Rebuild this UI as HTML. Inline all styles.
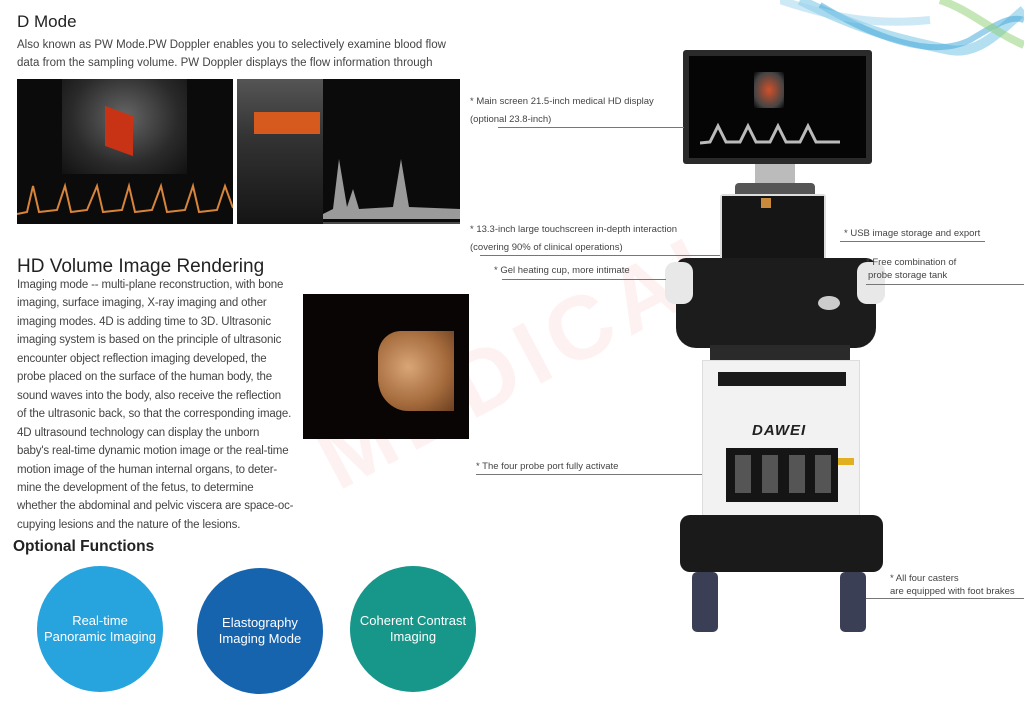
<!DOCTYPE html>
<html><head><meta charset="utf-8">
<style>
*{margin:0;padding:0;box-sizing:border-box}
body{width:1024px;height:709px;background:#fff;position:relative;overflow:hidden;font-family:"Liberation Sans",sans-serif;color:#3a3a3a}
.a{position:absolute}
.t{font-size:11.5px;line-height:18.4px;color:#444}
.t2{font-size:11.5px;line-height:18.45px;color:#444;white-space:nowrap;letter-spacing:-0.15px}
.lab{position:absolute;font-size:9.5px;color:#444;white-space:nowrap}
.ln{position:absolute;height:1px;background:#777}
.c{position:absolute;border-radius:50%;color:#fff;font-size:13px;text-align:center;display:flex;align-items:center;justify-content:center;line-height:16px}
</style></head><body>

<svg class="a" style="left:780px;top:0" width="244" height="70">
<path d="M20 0 C80 30 120 40 170 50 C200 55 220 30 244 10" stroke="#59b7e0" stroke-width="10" fill="none" opacity=".45"/>
<path d="M40 5 C90 35 150 60 190 40 C215 25 230 15 244 20" stroke="#3aa3d8" stroke-width="6" fill="none" opacity=".5"/>
<path d="M160 0 C190 10 210 30 244 45" stroke="#8ccf70" stroke-width="8" fill="none" opacity=".5"/>
<path d="M0 0 C60 20 100 25 150 20" stroke="#9bd3ee" stroke-width="8" fill="none" opacity=".5"/>
</svg>

<div class="a" style="left:300px;top:420px;font-size:90px;font-weight:bold;color:#fdf1f2;transform:rotate(-28deg);transform-origin:left top;letter-spacing:8px">MEDICAL</div>

<div class="a" style="left:17px;top:12px;font-size:17px;color:#222">D Mode</div>
<div class="a t" style="left:17px;top:36px;width:440px">Also known as PW Mode.PW Doppler enables you to selectively examine blood flow data from the sampling volume. PW Doppler displays the flow information through</div>

<div class="a" style="left:17px;top:79px;width:216px;height:145px;background:#0b0b0b;overflow:hidden">
 <div class="a" style="left:45px;top:0;width:125px;height:95px;background:radial-gradient(ellipse at 50% 40%,#666,#2a2a2a 60%,#111)"></div>
 <div class="a" style="left:88px;top:32px;width:28px;height:40px;background:#c83316;transform:skewY(20deg)"></div>
 <svg class="a" style="left:0;top:95px" width="216" height="50"><polyline points="0,40 10,38 16,12 22,38 40,36 48,12 54,38 70,36 80,12 86,38 105,36 112,12 118,38 135,36 144,12 150,38 168,36 176,12 182,38 200,36 208,12 216,34" stroke="#d8843a" stroke-width="2" fill="none"/></svg>
</div>
<div class="a" style="left:237px;top:79px;width:223px;height:145px;background:#0b0b0b;overflow:hidden">
 <div class="a" style="left:0;top:0;width:86px;height:145px;background:linear-gradient(#555,#333 40%,#151515)"></div>
 <div class="a" style="left:17px;top:33px;width:66px;height:22px;background:#d65a1e"></div>
 <svg class="a" style="left:86px;top:40px" width="137" height="105"><path d="M0 95 L10 90 L16 40 L24 88 L30 70 L36 90 L70 88 L78 40 L86 88 L137 90 L137 100 L0 100Z" fill="#9a9a9a"/><line x1="0" y1="104" x2="137" y2="104" stroke="#888"/></svg>
</div>

<div class="a" style="left:17px;top:256px;font-size:19px;color:#222">HD Volume Image Rendering</div>
<div class="a t2" style="left:17px;top:276px">Imaging mode -- multi-plane reconstruction, with bone<br>imaging, surface imaging, X-ray imaging and other<br>imaging modes. 4D is adding time to 3D. Ultrasonic<br>imaging system is based on the principle of ultrasonic<br>encounter object reflection imaging developed, the<br>probe placed on the surface of the human body, the<br>sound waves into the body, also receive the reflection<br>of the ultrasonic back, so that the corresponding image.<br>4D ultrasound technology can display the unborn<br>baby's real-time dynamic motion image or the real-time<br>motion image of the human internal organs, to deter-<br>mine the development of the fetus, to determine<br>whether the abdominal and pelvic viscera are space-oc-<br>cupying lesions and the nature of the lesions.</div>

<div class="a" style="left:303px;top:294px;width:166px;height:145px;background:#0a0505">
 <div class="a" style="left:75px;top:37px;width:76px;height:80px;background:radial-gradient(ellipse at 40% 45%,#d9a577,#a46a3c 60%,#6b3f20);border-radius:30% 0 0 40%"></div>
</div>

<div class="a" style="left:13px;top:538px;font-size:15.5px;font-weight:bold;color:#222">Optional Functions</div>
<div class="c" style="left:37px;top:566px;width:126px;height:126px;background:#27a3de">Real-time<br>Panoramic Imaging</div>
<div class="c" style="left:197px;top:568px;width:126px;height:126px;background:#1764ae">Elastography<br>Imaging Mode</div>
<div class="c" style="left:350px;top:566px;width:126px;height:126px;background:#17978a">Coherent Contrast<br>Imaging</div>

<div class="a" style="left:683px;top:50px;width:189px;height:114px;background:#2a2a2a;border-radius:3px"></div>
<div class="a" style="left:689px;top:56px;width:177px;height:102px;background:#050505"></div>
<div class="a" style="left:754px;top:72px;width:30px;height:36px;background:radial-gradient(#d0502a,#444 70%,#050505)"></div>
<svg class="a" style="left:700px;top:118px" width="140" height="30"><polyline points="0,25 10,24 18,8 26,24 40,24 48,8 56,24 70,24 78,8 86,24 100,24 108,8 116,24 140,24" stroke="#bbb" stroke-width="3" fill="none"/></svg>
<div class="a" style="left:755px;top:164px;width:40px;height:22px;background:#bbb"></div>
<div class="a" style="left:735px;top:183px;width:80px;height:12px;background:#555;border-radius:4px 4px 0 0"></div>
<div class="a" style="left:720px;top:194px;width:106px;height:72px;background:#ddd;border-radius:3px"></div>
<div class="a" style="left:722px;top:196px;width:102px;height:66px;background:#151515"></div>
<div class="a" style="left:761px;top:198px;width:10px;height:10px;background:#c98a3c"></div>
<div class="a" style="left:676px;top:258px;width:200px;height:90px;background:#1c1c1c;border-radius:10px 10px 20px 20px"></div>
<div class="a" style="left:665px;top:262px;width:28px;height:42px;background:#e8e8e8;border-radius:10px"></div>
<div class="a" style="left:857px;top:262px;width:28px;height:42px;background:#e8e8e8;border-radius:10px"></div>
<div class="a" style="left:818px;top:296px;width:22px;height:14px;background:#ccc;border-radius:50%"></div>
<div class="a" style="left:710px;top:345px;width:140px;height:20px;background:#2a2a2a"></div>
<div class="a" style="left:702px;top:360px;width:158px;height:172px;background:#f2f2f2;border:1px solid #ddd"></div>
<div class="a" style="left:718px;top:372px;width:128px;height:14px;background:#1a1a1a"></div>
<div class="a" style="left:752px;top:422px;font-size:15px;font-style:italic;font-weight:bold;color:#222;letter-spacing:1px">DAWEI</div>
<div class="a" style="left:726px;top:448px;width:112px;height:54px;background:#151515"></div>
<div class="a" style="left:735px;top:455px;width:16px;height:38px;background:#555"></div>
<div class="a" style="left:762px;top:455px;width:16px;height:38px;background:#555"></div>
<div class="a" style="left:789px;top:455px;width:16px;height:38px;background:#555"></div>
<div class="a" style="left:815px;top:455px;width:16px;height:38px;background:#555"></div>
<div class="a" style="left:838px;top:458px;width:16px;height:7px;background:#e0b020"></div>
<div class="a" style="left:680px;top:515px;width:203px;height:57px;background:#1a1a1a;border-radius:10px"></div>
<div class="a" style="left:692px;top:572px;width:26px;height:60px;background:#3a3f55;border-radius:5px"></div>
<div class="a" style="left:840px;top:572px;width:26px;height:60px;background:#3a3f55;border-radius:5px"></div>

<div class="lab" style="left:470px;top:96px">* Main screen 21.5-inch medical HD display</div>
<div class="lab" style="left:470px;top:114px">(optional 23.8-inch)</div>
<div class="ln" style="left:498px;top:127px;width:186px"></div>
<div class="lab" style="left:470px;top:224px">* 13.3-inch large touchscreen in-depth interaction</div>
<div class="lab" style="left:470px;top:242px">(covering 90% of clinical operations)</div>
<div class="ln" style="left:480px;top:255px;width:240px"></div>
<div class="lab" style="left:494px;top:265px">* Gel heating cup, more intimate</div>
<div class="ln" style="left:502px;top:279px;width:164px"></div>
<div class="lab" style="left:476px;top:461px">* The four probe port fully activate</div>
<div class="ln" style="left:476px;top:474px;width:226px"></div>
<div class="lab" style="left:844px;top:228px">* USB image storage and export</div>
<div class="ln" style="left:840px;top:241px;width:145px"></div>
<div class="lab" style="left:866px;top:257px">* Free combination of</div>
<div class="lab" style="left:868px;top:270px">probe storage tank</div>
<div class="ln" style="left:866px;top:284px;width:158px"></div>
<div class="lab" style="left:890px;top:573px">* All four casters</div>
<div class="lab" style="left:890px;top:586px">are equipped with foot brakes</div>
<div class="ln" style="left:866px;top:598px;width:158px"></div>
</body></html>
